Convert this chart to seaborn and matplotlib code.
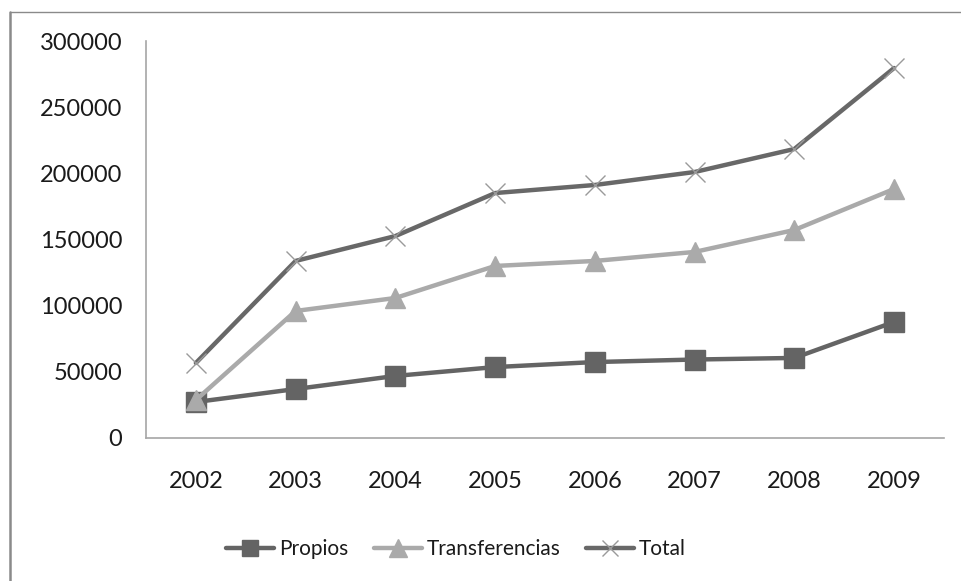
import matplotlib
matplotlib.use("Agg")
import matplotlib.pyplot as plt
from matplotlib.lines import Line2D
import pandas as pd
import seaborn as sns

years = [2002, 2003, 2004, 2005, 2006, 2007, 2008, 2009]
propios = [27200, 37000, 46900, 53600, 57400, 59300, 60500, 87700]
transferencias = [28700, 96000, 105800, 130000, 133800, 140600, 157200, 188200]
total = [56700, 133800, 152600, 185100, 191200, 201000, 218400, 279600]
y_ticks = [0, 50000, 100000, 150000, 200000, 250000, 300000]

sns.set_style("white")
plt.rcParams["font.family"] = ["Lato", "DejaVu Sans"]

fig = plt.figure(figsize=(9.62, 5.81), dpi=100)
ax = fig.add_axes([146 / 962, 1 - 438 / 581, 798 / 962, 397 / 581])

series = [
    ("Propios", propios, "#646464", "s", 14, "#646464", 1),
    ("Transferencias", transferencias, "#aaaaaa", "^", 15, "#aaaaaa", 1),
    ("Total", total, "#686868", "x", 14, "#9a9a9a", 1.0),
]

handles = []
for name, vals, col, mk, ms, mcol, mew in series:
    df = pd.DataFrame({"year": years, "value": vals})
    sns.lineplot(data=df, x="year", y="value", ax=ax, color=col, linewidth=3.2,
                 marker=mk, markersize=ms, markerfacecolor=mcol,
                 markeredgecolor=mcol, markeredgewidth=mew, legend=False)
    handles.append(Line2D([], [], color=col, linewidth=3.2, marker=mk,
                          markersize=ms * 0.85, markerfacecolor=mcol,
                          markeredgecolor=mcol, markeredgewidth=mew, label=name))

ax.set_xlim(2001.5, 2009.5)
ax.set_ylim(0, 300000)
ax.set_xticks(years)
ax.set_xticklabels([str(y) for y in years])
ax.set_yticks(y_ticks)
ax.set_yticklabels([str(v) for v in y_ticks])
ax.set_xlabel("")
ax.set_ylabel("")
ax.tick_params(axis="both", length=0, labelsize=17, colors="#1a1a1a")
ax.tick_params(axis="y", pad=17)
ax.tick_params(axis="x", pad=24)

for side in ["top", "right"]:
    ax.spines[side].set_visible(False)
for side in ["left", "bottom"]:
    ax.spines[side].set_color("#a6a6a6")
    ax.spines[side].set_linewidth(1.2)

fig.legend(handles=handles, loc="center", bbox_to_anchor=(456 / 962, 1 - 549 / 581),
           ncol=3, frameon=False, fontsize=15, handlelength=2.3,
           handletextpad=0.25, columnspacing=1.2, labelcolor="#1a1a1a")

# outer frame lines along the left and top edges
fig.add_artist(Line2D([9.5 / 962, 9.5 / 962], [0, 1 - 12 / 581],
                      transform=fig.transFigure, color="#8a8a8a", linewidth=1.8))
fig.add_artist(Line2D([9.5 / 962, 1], [1 - 12 / 581, 1 - 12 / 581],
                      transform=fig.transFigure, color="#8a8a8a", linewidth=1.0))

fig.savefig("out.png", dpi=100, facecolor="white")
